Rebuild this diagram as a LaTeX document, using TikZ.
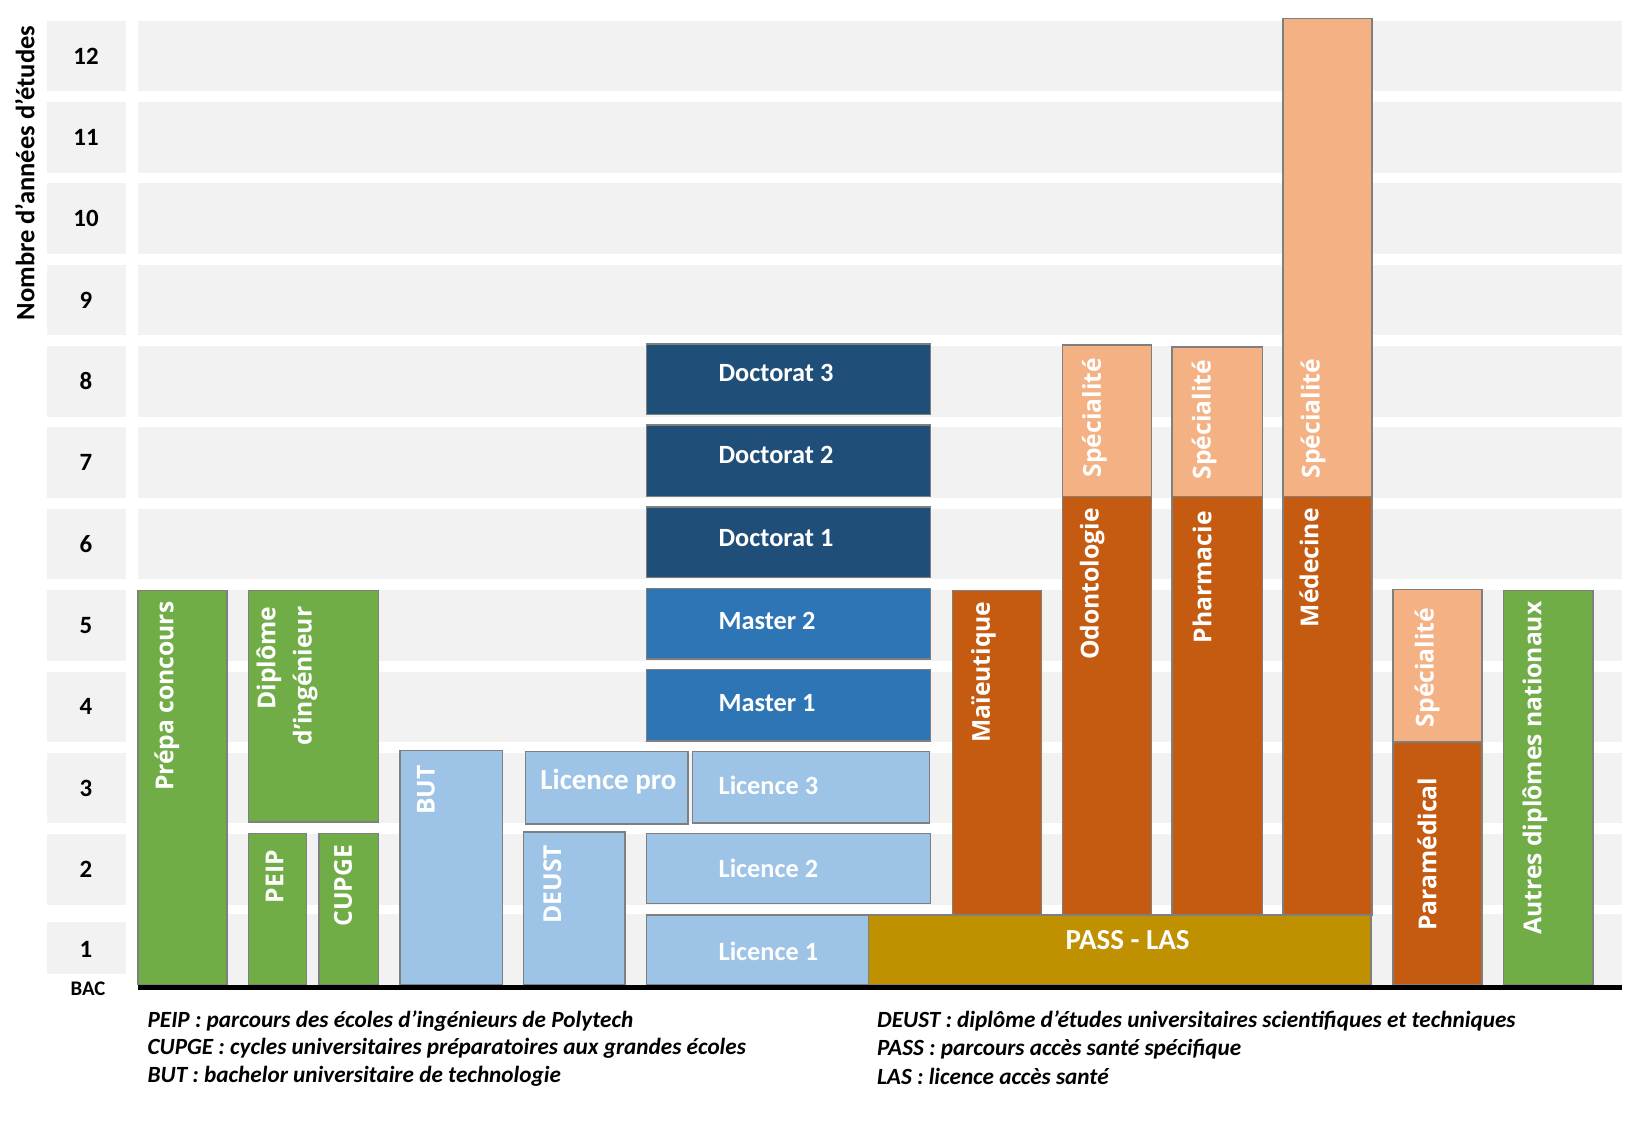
\documentclass[tikz,border=0pt]{standalone}
\usepackage{fontspec}
\setmainfont{Carlito}
\newfontfamily\osans{Open Sans}
\definecolor{bandgray}{HTML}{F2F2F2}
\definecolor{boxline}{HTML}{7F7F7F}
\definecolor{cgreen}{HTML}{70AD47}
\definecolor{clblue}{HTML}{9DC3E6}
\definecolor{cmblue}{HTML}{2E75B6}
\definecolor{cdblue}{HTML}{1F4E79}
\definecolor{corange}{HTML}{C55A11}
\definecolor{cpeach}{HTML}{F4B183}
\definecolor{cgold}{HTML}{BF9000}
\tikzset{
  band/.style={fill=bandgray},
  box/.style={draw=boxline, line width=0.7pt},
  htext/.style={text=white, font=\bfseries\fontsize{12.7}{15}\selectfont, inner sep=0pt},
  hbig/.style={text=white, font=\bfseries\fontsize{14}{16}\selectfont, inner sep=0pt},
  vtext/.style={text=white, rotate=90, font=\osans\bfseries\fontsize{11.9}{17.5}\selectfont, inner sep=0pt},
  legendtxt/.style={font=\bfseries\itshape\fontsize{11.2}{13}\selectfont, anchor=west, inner sep=0pt},
  rowlab/.style={font=\bfseries\fontsize{12}{14}\selectfont, inner sep=0pt}
}
\begin{document}
\begin{tikzpicture}[x=0.5pt,y=-0.5pt]
\useasboundingbox (0,0) rectangle (1568,1085.5);
\fill[white] (0,0) rectangle (1568,1085.5);
% grey bands
\foreach \k in {2,...,12}{
  \pgfmathsetmacro{\yt}{20+(12-\k)*78.5}
  \fill[band] (45,\yt) rectangle (122,\yt+68);
  \fill[band] (133,\yt) rectangle (1565,\yt+68);
  \node[rowlab] (row\k) at (83,\yt+34) {\k};
}
\fill[band] (45,890) rectangle (122,940);
\fill[band] (133,882) rectangle (1565,950);
\node[rowlab] (row1) at (83,916) {1};
\node[font=\bfseries\fontsize{10}{12}\selectfont, inner sep=0pt] (bac) at (85,954) {BAC};
\node[rotate=90, font=\bfseries\fontsize{12.8}{15}\selectfont, inner sep=0pt] (ytitle) at (24,167) {Nombre d’années d’études};
% boxes
\path[box, fill=cgreen] (133,570) rectangle (219,950);
\path[box, fill=cgreen] (240,570) rectangle (365,793);
\path[box, fill=cgreen] (240,804) rectangle (296,950);
\path[box, fill=cgreen] (308,804) rectangle (365,950);
\path[box, fill=clblue] (386,724) rectangle (485,950);
\path[box, fill=clblue] (507,725) rectangle (664,795);
\path[box, fill=clblue] (505,803) rectangle (603,950);
\path[box, fill=clblue] (668,725) rectangle (897,794);
\path[box, fill=clblue] (624,804) rectangle (898,872);
\path[box, fill=clblue] (624,883) rectangle (838,950);
\path[box, fill=cgold] (838,883) rectangle (1323,950);
\path[box, fill=cmblue] (624,646) rectangle (898,715);
\path[box, fill=cmblue] (624,568) rectangle (898,636);
\path[box, fill=cdblue] (624,489) rectangle (898,557);
\path[box, fill=cdblue] (624,410) rectangle (898,479);
\path[box, fill=cdblue] (624,332) rectangle (898,400);
\path[box, fill=corange] (919,570) rectangle (1005,883);
\path[box, fill=corange] (1025,479) rectangle (1111,883);
\path[box, fill=cpeach] (1025,333) rectangle (1111,479);
\path[box, fill=corange] (1131,479) rectangle (1218,883);
\path[box, fill=cpeach] (1131,335) rectangle (1218,479);
\path[box, fill=corange] (1238,479) rectangle (1324,883);
\path[box, fill=cpeach] (1238,18) rectangle (1324,479);
\path[box, fill=corange] (1344,716) rectangle (1430,950);
\path[box, fill=cpeach] (1344,569) rectangle (1430,716);
\path[box, fill=cgreen] (1451,570) rectangle (1537,950);
% BAC line
\fill[black] (133,950) rectangle (1565,955);
% horizontal texts
\node[htext, anchor=west] (d3) at (693,360) {Doctorat 3};
\node[htext, anchor=west] (d2) at (693,439) {Doctorat 2};
\node[htext, anchor=west] (d1) at (693,519) {Doctorat 1};
\node[htext, anchor=west] (m2) at (693,599) {Master 2};
\node[htext, anchor=west] (m1) at (693,678) {Master 1};
\node[htext, anchor=west] (l3) at (693,758) {Licence 3};
\node[htext, anchor=west] (l2) at (693,838) {Licence 2};
\node[htext, anchor=west] (l1) at (693,918) {Licence 1};
\node[hbig, anchor=west] (lpro) at (521,754) {Licence pro};
\node[hbig] (pass) at (1088,907) {PASS - LAS};
% vertical texts
\node[vtext, anchor=east] (prepa) at (161,580) {Prépa concours};
\node[vtext, anchor=east, align=right] (dipl) at (277,585) {Diplôme\\d’ingénieur};
\node[vtext, anchor=east] (peip) at (265,820) {PEIP};
\node[vtext, anchor=east] (cupge) at (331,815) {CUPGE};
\node[vtext, anchor=east] (but) at (411,738) {BUT};
\node[vtext, anchor=east] (deust) at (533,815) {DEUST};
\node[vtext, anchor=east] (maieu) at (949,580) {Maïeutique};
\node[vtext, anchor=east] (odonto) at (1054,490) {Odontologie};
\node[vtext, anchor=east] (pharma) at (1160,493) {Pharmacie};
\node[vtext, anchor=east] (medec) at (1263,490) {Médecine};
\node[vtext] (spec1) at (1056,403) {Spécialité};
\node[vtext] (spec2) at (1162,405) {Spécialité};
\node[vtext] (spec3) at (1267,404) {Spécialité};
\node[vtext] (spec4) at (1377,644) {Spécialité};
\node[vtext, anchor=east] (para) at (1377,750) {Paramédical};
\node[vtext, anchor=east] (autres) at (1481,580) {Autres diplômes nationaux};
% legend
\node[legendtxt] (lg1) at (142,985) {PEIP : parcours des écoles d’ingénieurs de Polytech};
\node[legendtxt] (lg2) at (142,1012) {CUPGE : cycles universitaires préparatoires aux grandes écoles};
\node[legendtxt] (lg3) at (142,1039) {BUT : bachelor universitaire de technologie};
\node[legendtxt] (lg4) at (846,985) {DEUST : diplôme d’études universitaires scientifiques et techniques};
\node[legendtxt] (lg5) at (846,1012) {PASS : parcours accès santé spécifique};
\node[legendtxt] (lg6) at (846,1039) {LAS : licence accès santé};
\end{tikzpicture}
\end{document}
